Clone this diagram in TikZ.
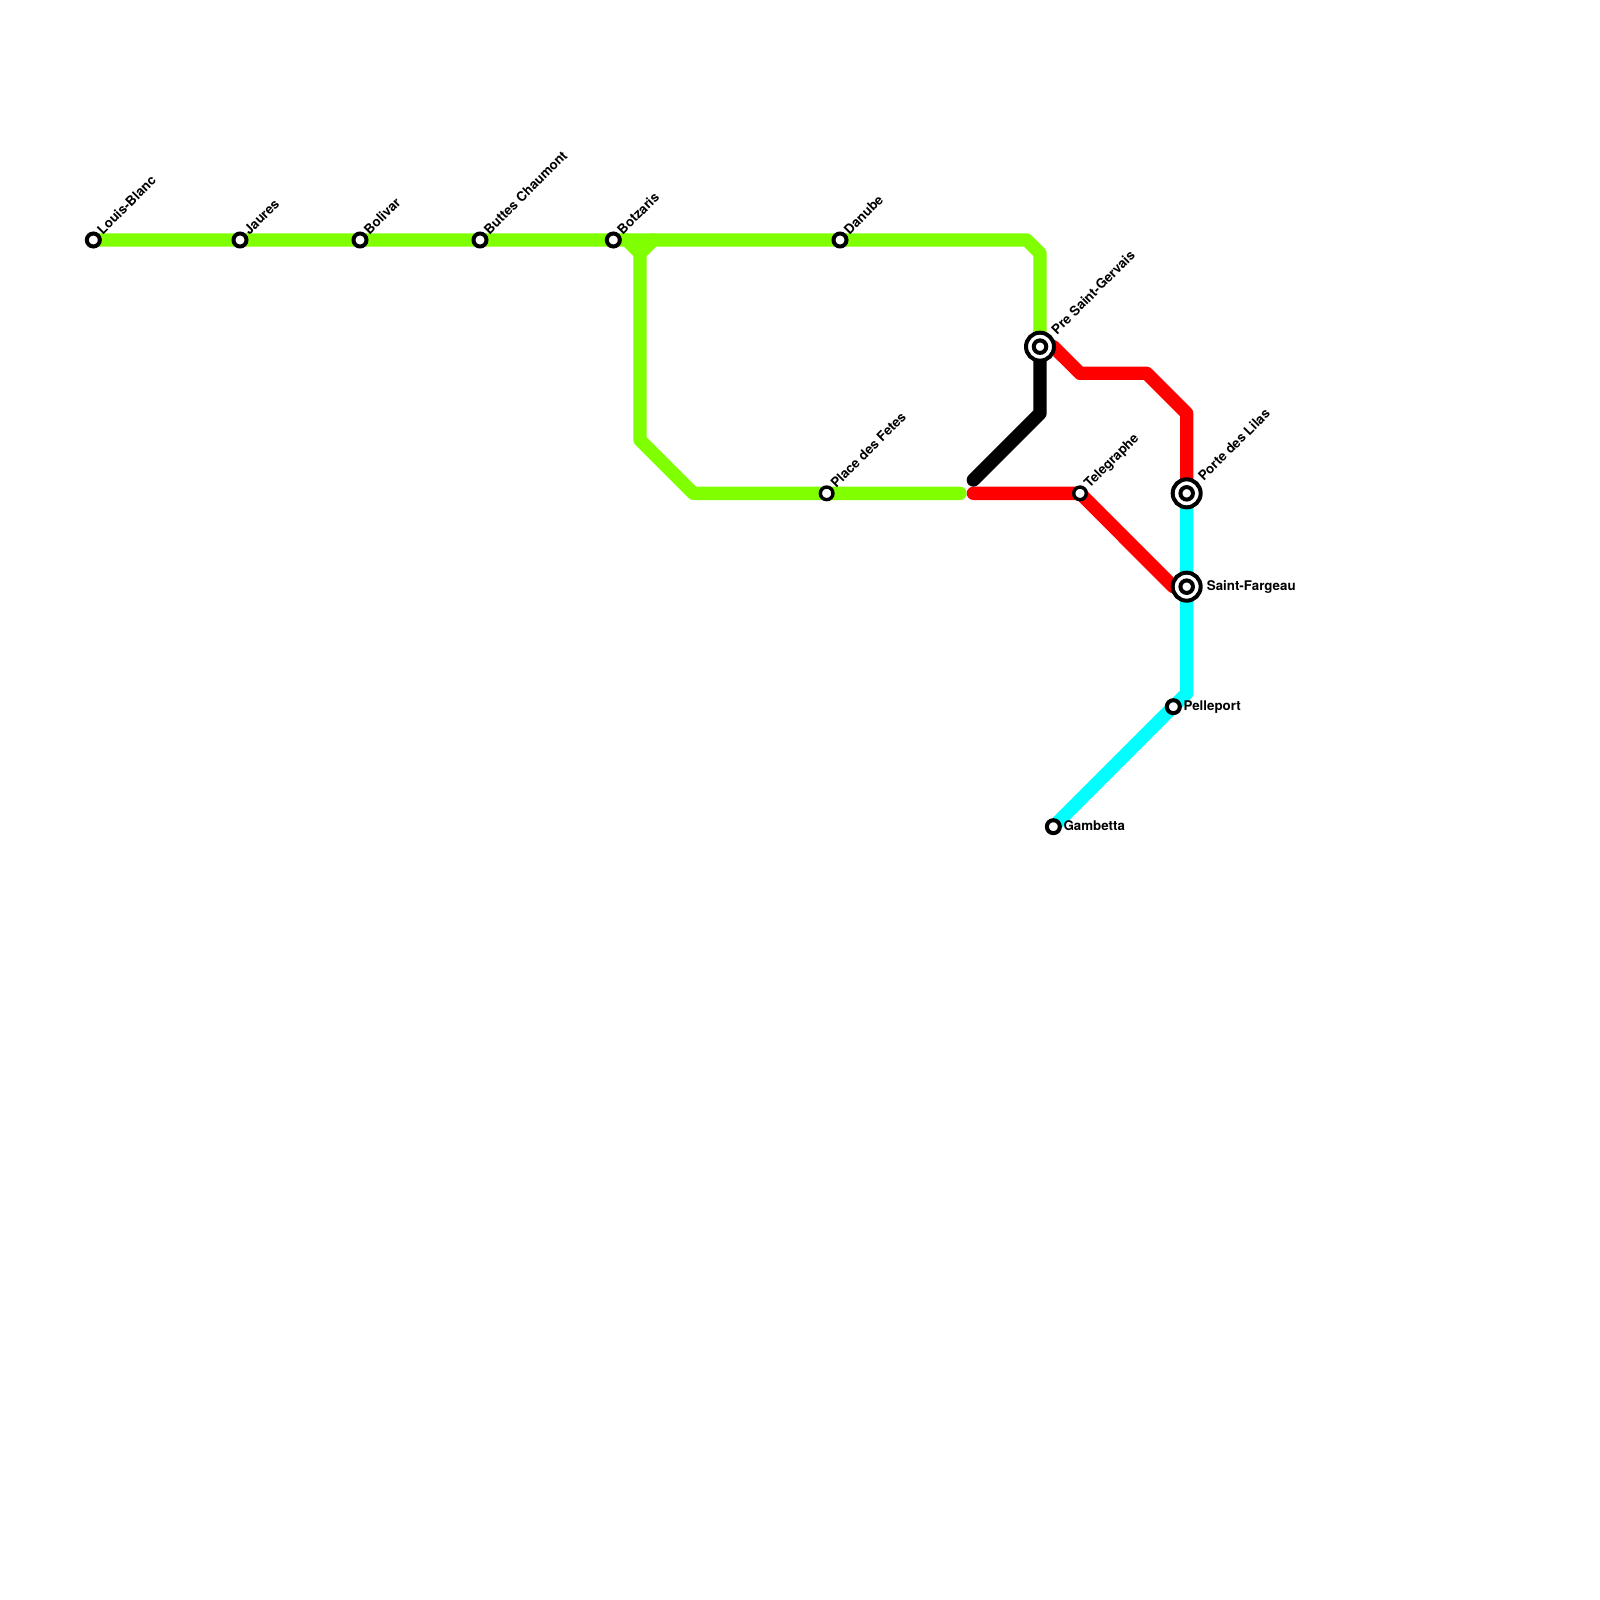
\documentclass[tikz,border=0pt]{standalone}
\usepackage{fontspec}
\setmainfont{TeX Gyre Heros}
\definecolor{linegreen}{RGB}{128,255,0}
\definecolor{linecyan}{RGB}{0,255,255}
\definecolor{linered}{RGB}{255,0,0}
\tikzset{
 x=1pt,y=-1pt,
 route/.style={line width=13.33pt,line cap=round,line join=round},
 stop/.style={circle,draw=black,fill=white,line width=4pt,outer sep=0pt,minimum size=13pt,inner sep=0pt},
 thinstop/.style={circle,draw=black,fill=white,line width=3.4pt,outer sep=0pt,minimum size=12.6pt,inner sep=0pt},
 hubinner/.style={circle,draw=black,fill=white,line width=4pt,outer sep=0pt,minimum size=12.5pt,inner sep=0pt},
 hubouter/.style={circle,draw=black,fill=white,line width=4pt,outer sep=0pt,minimum size=28pt,inner sep=0pt},
 diaglabel/.style={rotate=45,anchor=base west,inner sep=0pt,font=\fontsize{13.33pt}{14pt}\selectfont\bfseries},
 sidelabel/.style={anchor=base west,inner sep=0pt,font=\fontsize{13.33pt}{14pt}\selectfont\bfseries}
}
\begin{document}
\begin{tikzpicture}
\useasboundingbox (0,0) rectangle (1600,1600);
\fill[white] (0,0) rectangle (1600,1600);
% stations
\coordinate (louis) at (93.33,240);
\coordinate (jaures) at (240,240);
\coordinate (bolivar) at (360,240);
\coordinate (buttes) at (480,240);
\coordinate (botzaris) at (613.33,240);
\coordinate (danube) at (840,240);
\coordinate (fetes) at (826.67,493.33);
\coordinate (pre) at (1040,346.67);
\coordinate (teleg) at (1080,493.33);
\coordinate (lilas) at (1186.67,493.33);
\coordinate (fargeau) at (1186.67,586.67);
\coordinate (pelle) at (1173.33,706.67);
\coordinate (gamb) at (1053.33,826.67);
% bends
\coordinate (g1) at (1026.67,240);
\coordinate (g2) at (1040,253.33);
\coordinate (g3) at (626.67,240);
\coordinate (g4) at (640,253.33);
\coordinate (g5) at (653.33,240);
\coordinate (g6) at (640,440);
\coordinate (g7) at (693.33,493.33);
\coordinate (g8) at (960,493.33);
\coordinate (r1) at (1053.33,346.67);
\coordinate (r2) at (1080,373.33);
\coordinate (r3) at (1146.67,373.33);
\coordinate (r4) at (1186.67,413.33);
\coordinate (r5) at (973.33,493.33);
\coordinate (r6) at (1173.33,586.67);
\coordinate (k1) at (1040,413.33);
\coordinate (k2) at (973.33,480);
\coordinate (c1) at (1186.67,693.33);
% lines
\draw[route,linered] (r1) -- (r2) -- (r3) -- (r4) -- (lilas);
\draw[route,linered] (r5) -- (teleg) -- (r6) -- (fargeau);
\draw[route,black] (pre) -- (k1) -- (k2);
\draw[route,linegreen] (louis) -- (g1) -- (g2) -- (pre);
\draw[route,linegreen] (g3) -- (g4) -- (g5);
\draw[route,linegreen] (g4) -- (g6) -- (g7) -- (g8);
\draw[route,linecyan] (lilas) -- (c1) -- (gamb);
% station marks
\foreach \s/\n in {louis/a,jaures/b,bolivar/c,buttes/d,botzaris/e,danube/f,pelle/i,gamb/j}
  \node[stop] (m\n) at (\s) {};
\foreach \s/\n in {fetes/g,teleg/h}
  \node[thinstop] (m\n) at (\s) {};
\foreach \s/\n in {pre/k,lilas/l,fargeau/m}{
  \node[hubouter] (m\n) at (\s) {};
  \node[hubinner] (i\n) at (\s) {};
}
% labels
\node[diaglabel] (la) at ([shift={(9.5,-4.5)}]louis) {Louis-Blanc};
\node[diaglabel] (lb) at ([shift={(9.5,-4.5)}]jaures) {Jaures};
\node[diaglabel] (lc) at ([shift={(9.5,-4.5)}]bolivar) {Bolivar};
\node[diaglabel] (ld) at ([shift={(9.5,-4.5)}]buttes) {Buttes Chaumont};
\node[diaglabel] (le) at ([shift={(9.5,-4.5)}]botzaris) {Botzaris};
\node[diaglabel] (lf) at ([shift={(9.5,-4.5)}]danube) {Danube};
\node[diaglabel] (lg) at ([shift={(9.5,-4.5)}]fetes) {Place des Fetes};
\node[diaglabel] (lh) at ([shift={(9.5,-4.5)}]teleg) {Telegraphe};
\node[diaglabel] (lk) at ([shift={(17,-11.5)}]pre) {Pre Saint-Gervais};
\node[diaglabel] (ll) at ([shift={(17,-11.5)}]lilas) {Porte des Lilas};
\node[sidelabel] (lm) at ([shift={(20,4.3)}]fargeau) {Saint-Fargeau};
\node[sidelabel] (li) at ([shift={(10,4.3)}]pelle) {Pelleport};
\node[sidelabel] (lj) at ([shift={(10,4.3)}]gamb) {Gambetta};
\end{tikzpicture}
\end{document}
